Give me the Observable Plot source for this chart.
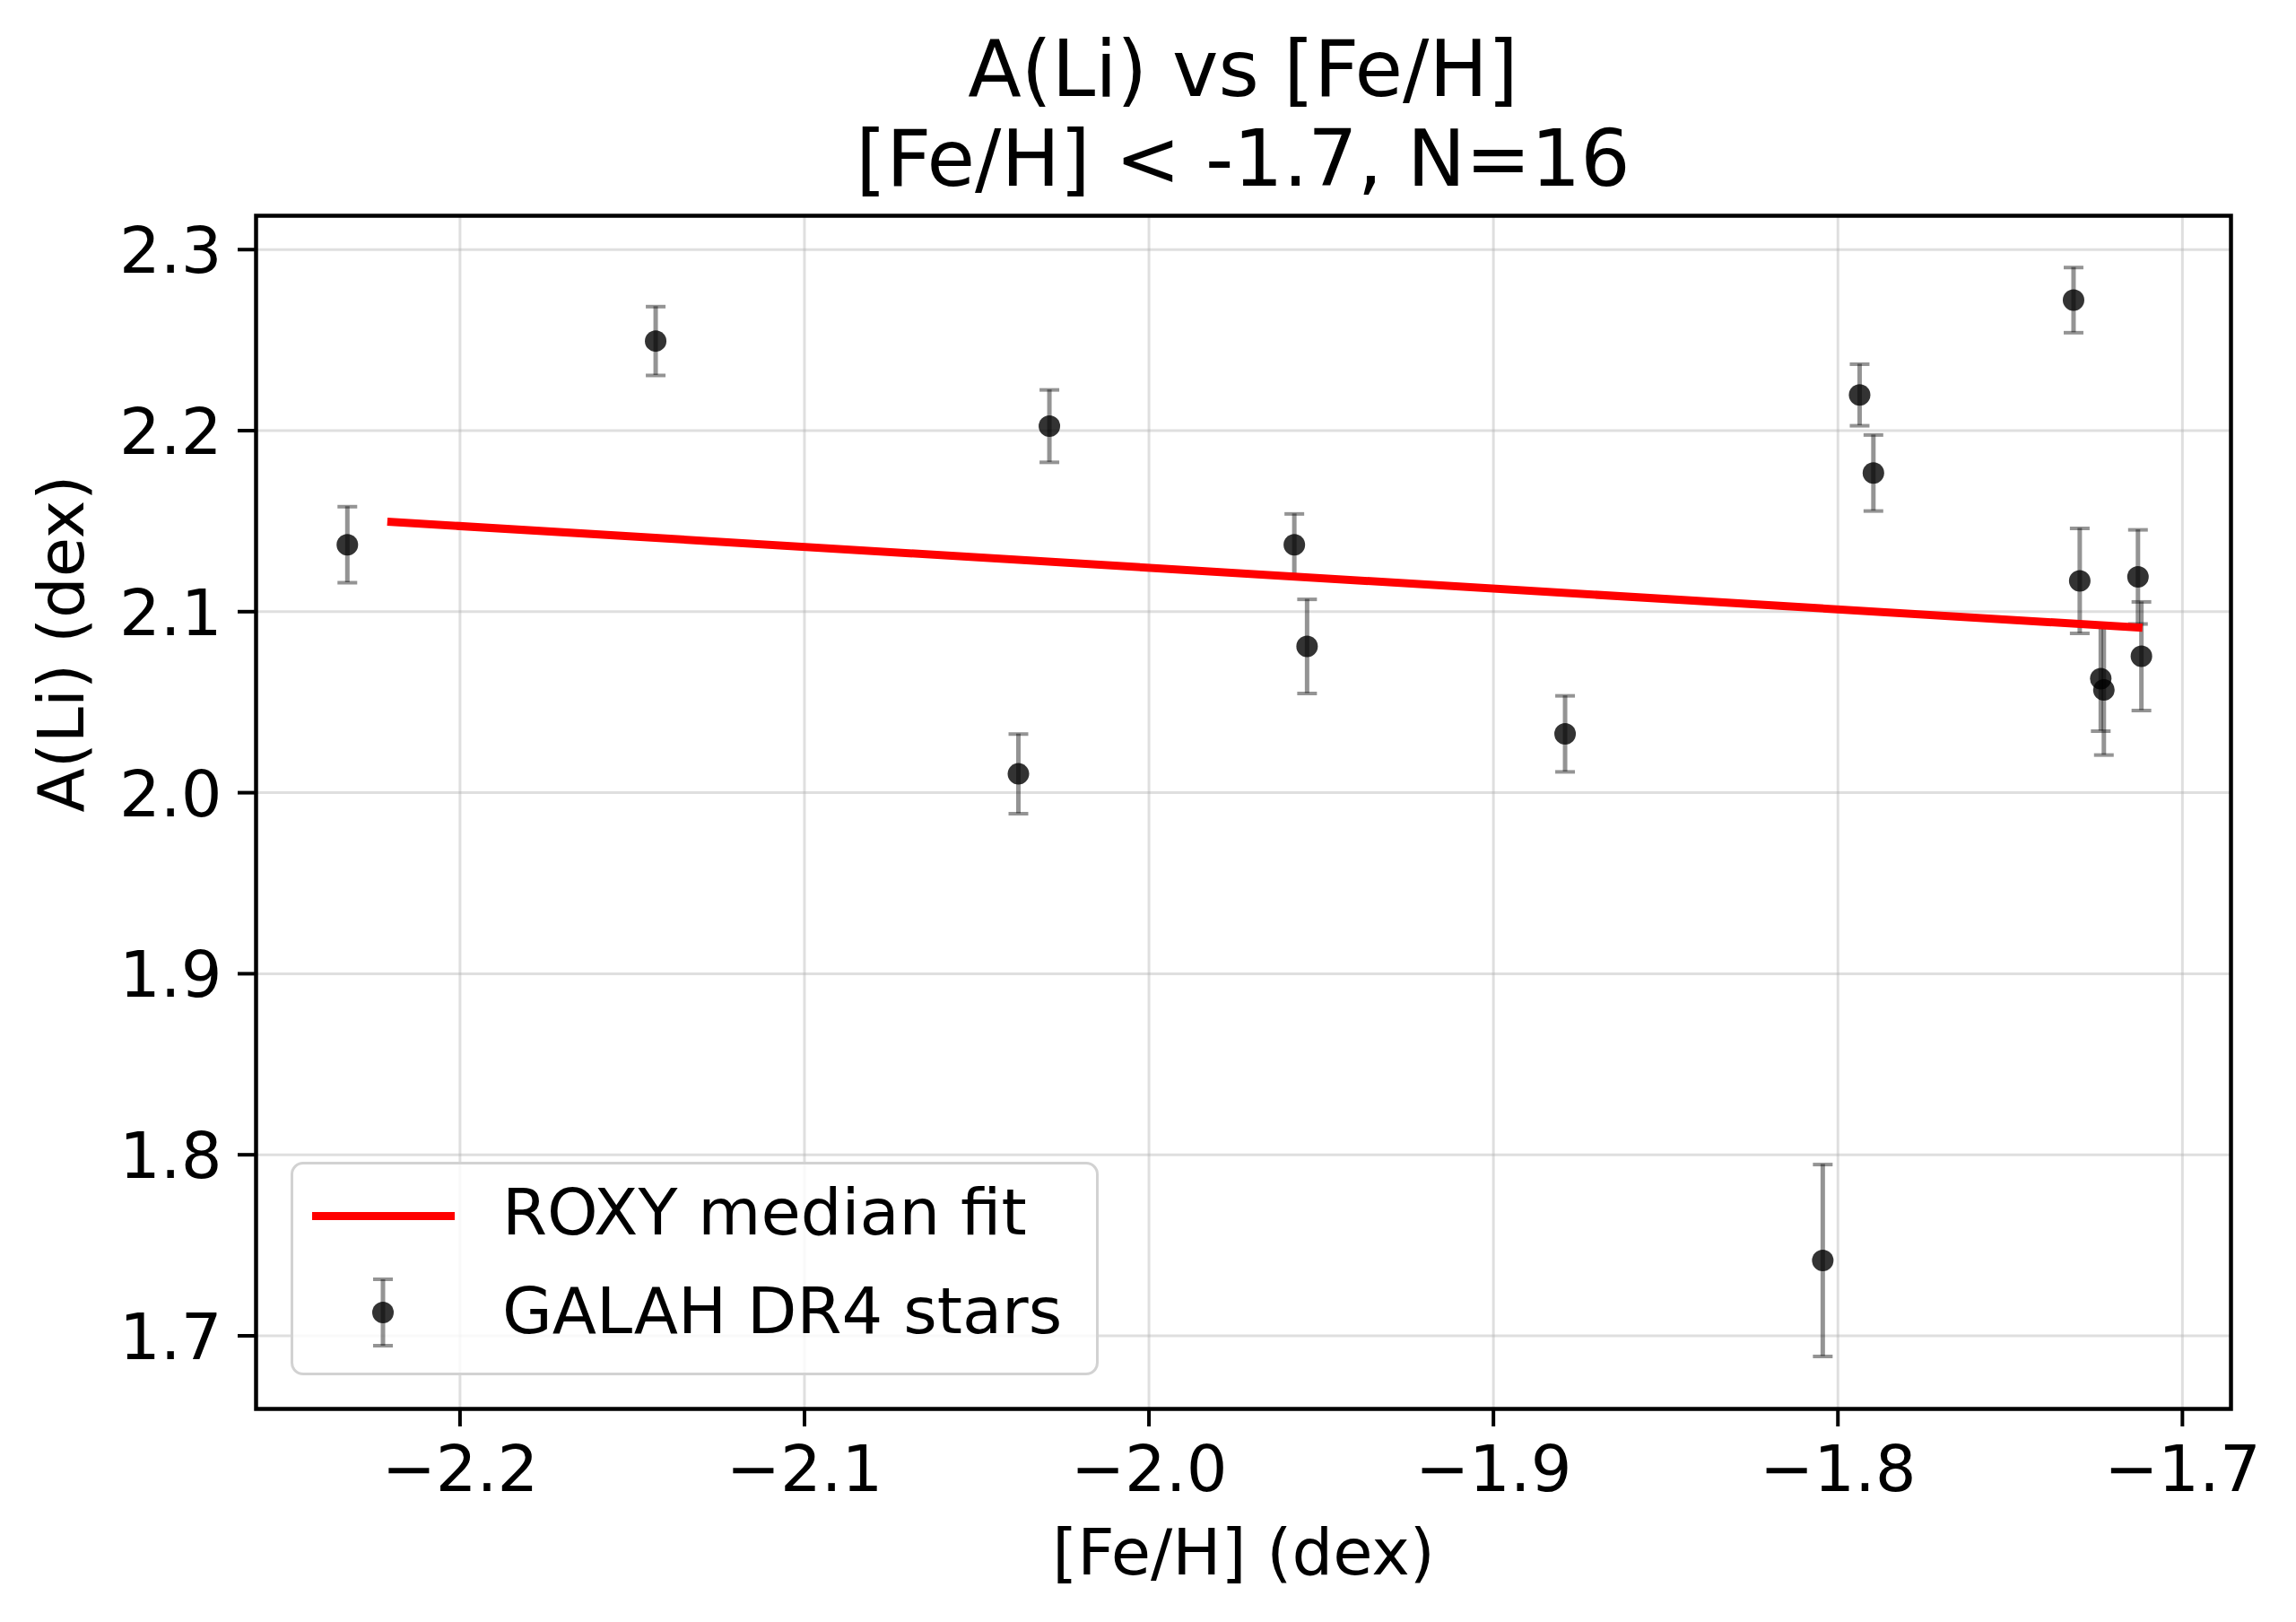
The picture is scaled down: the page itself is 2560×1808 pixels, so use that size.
<!DOCTYPE html>
<html>
<head>
<meta charset="utf-8">
<script src="https://cdn.jsdelivr.net/npm/d3@7"></script>
<script src="https://cdn.jsdelivr.net/npm/@observablehq/plot@0.6"></script>
<style>
  html, body { margin: 0; padding: 0; background: #fff; }
  #wrap { position: relative; width: 2560px; height: 1808px; font-family: "DejaVu Sans", sans-serif; color: #000; overflow: hidden; }
  .tl { position: absolute; z-index: 3; left: 1386px; transform: translateX(-50%); white-space: nowrap; font-size: 87px; line-height: 87px; }
  #chart { position: absolute; z-index: 1; left: 0; top: 200px; }
  #legend { position: absolute; z-index: 2; left: 324px; top: 1295px; width: 901px; height: 238px; box-sizing: border-box;
            border: 3px solid #d2d2d2; border-radius: 14px; background: rgba(255,255,255,0.8); }
  .lt { position: absolute; left: 233px; font-size: 72px; line-height: 72px; white-space: nowrap; }
</style>
</head>
<body>
<div id="wrap">
  <div class="tl" id="t1" style="top:34px"></div>
  <div class="tl" id="t2" style="top:134px"></div>
  <div id="chart"></div>
  <div id="legend">
    <div id="lineSwatch" style="position:absolute;left:21px;top:53px;width:159px;height:9px;background:#ff0000"></div>
    <svg id="errSwatch" width="60" height="90" style="position:absolute;left:70px;top:120px;overflow:visible">
      <line x1="30" x2="30" y1="8" y2="82" stroke="black" stroke-opacity="0.42" stroke-width="5"/>
      <line x1="19" x2="41" y1="8" y2="8" stroke="black" stroke-opacity="0.42" stroke-width="4"/>
      <line x1="19" x2="41" y1="82" y2="82" stroke="black" stroke-opacity="0.42" stroke-width="4"/>
      <circle cx="30" cy="45" r="12" fill="black" fill-opacity="0.8"/>
    </svg>
    <div class="lt" id="l1" style="top:17px"></div>
    <div class="lt" id="l2" style="top:127px"></div>
  </div>
</div>
<script>
// ---- data ----
const feH    = [-2.2327, -2.1432, -2.0289, -2.0379, -1.9578, -1.9541, -1.8792, -1.8044,
                -1.7937, -1.7897, -1.7316, -1.7298, -1.7237, -1.7228, -1.7129, -1.7119];
const aLi    = [ 2.137,   2.2495,  2.2025,  2.0104,  2.137,   2.0808,  2.0325,  1.7416,
                 2.2197,  2.1766,  2.2721,  2.117,   2.063,   2.0568,  2.1192,  2.0754];
const aLiErr = [ 0.021,   0.019,   0.020,   0.022,   0.017,   0.026,   0.021,   0.053,
                 0.017,   0.021,   0.018,   0.029,   0.029,   0.036,   0.026,   0.030];
const fitFeH = [-2.2211, -1.7116];
const fitALi = [ 2.1497,  2.0911];
const xTicks = [-2.2, -2.1, -2.0, -1.9, -1.8, -1.7];
const yTicks = [1.7, 1.8, 1.9, 2.0, 2.1, 2.2, 2.3];
const titleLines = ["A(Li) vs [Fe/H]", "[Fe/H] < -1.7, N=16"];
const xLabel = "[Fe/H] (dex)";
const yLabel = "A(Li) (dex)";
const legendLabels = ["ROXY median fit", "GALAH DR4 stars"];

document.getElementById("t1").textContent = titleLines[0];
document.getElementById("t2").textContent = titleLines[1];
document.getElementById("l1").textContent = legendLabels[0];
document.getElementById("l2").textContent = legendLabels[1];

const stars = feH.map((x, i) => ({x, y: aLi[i], e: aLiErr[i]}));
const fit = fitFeH.map((x, i) => ({x, y: fitALi[i]}));

const capSymbol = {
  draw(context, size) {
    const w = Math.sqrt(size / Math.PI);
    context.moveTo(-w, 0);
    context.lineTo(w, 0);
  }
};
const errStyle = {stroke: "black", strokeOpacity: 0.42};

const plot = Plot.plot({
  width: 2560,
  height: 1608,
  marginTop: 40,
  marginBottom: 238,
  marginLeft: 285,
  marginRight: 73,
  style: {fontFamily: '"DejaVu Sans", sans-serif', fontSize: "72px", background: "transparent", overflow: "visible"},
  x: {domain: [-2.2592, -1.6859], label: null},
  y: {domain: [1.6596, 2.3187], label: null},
  marks: [
    Plot.gridX(xTicks, {stroke: "#b0b0b0", strokeOpacity: 0.4, strokeWidth: 3}),
    Plot.gridY(yTicks, {stroke: "#b0b0b0", strokeOpacity: 0.4, strokeWidth: 3}),
    Plot.ruleX(stars, {x: "x", y1: d => d.y - d.e, y2: d => d.y + d.e, ...errStyle, strokeWidth: 5}),
    Plot.dot(stars, {x: "x", y: d => d.y - d.e, symbol: capSymbol, r: 11, fill: "none", ...errStyle, strokeWidth: 4}),
    Plot.dot(stars, {x: "x", y: d => d.y + d.e, symbol: capSymbol, r: 11, fill: "none", ...errStyle, strokeWidth: 4}),
    Plot.line(fit, {x: "x", y: "y", stroke: "#ff0000", strokeWidth: 9, strokeLinecap: "butt"}),
    Plot.dot(stars, {x: "x", y: "y", r: 12, fill: "black", fillOpacity: 0.8, stroke: "none"}),
    Plot.axisX(xTicks, {tickSize: 20, tickPadding: 20, strokeWidth: 4, fontSize: 72,
                        tickFormat: d => d.toFixed(1).replace("-", "\u2212"), label: null}),
    Plot.axisY(yTicks, {tickSize: 20, strokeWidth: 4, tickFormat: () => "", label: null}),
    Plot.axisY(yTicks, {tickSize: 0, tickPadding: 38, dy: 3, fontSize: 72,
                        tickFormat: d => d.toFixed(1), label: null}),
    Plot.text([xLabel], {text: d => d, frameAnchor: "bottom", lineAnchor: "bottom", dy: 184, fontSize: 72}),
    Plot.text([yLabel], {text: d => d, frameAnchor: "left", lineAnchor: "bottom", rotate: -90, dx: -193, fontSize: 72}),
    Plot.frame({stroke: "black", strokeWidth: 4.5})
  ]
});
document.getElementById("chart").appendChild(plot);
</script>
</body>
</html>
